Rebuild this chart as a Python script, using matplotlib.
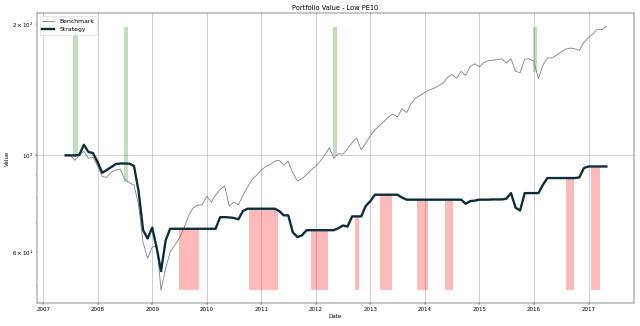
import numpy as np
import pandas as pd
import matplotlib
matplotlib.use("Agg")
import matplotlib.pyplot as plt
import matplotlib.dates as mdates

# Monthly portfolio values (start = 100)
dates = pd.date_range("2007-05-31", periods=120, freq="ME")

benchmark = [
    100.0, 100.3, 97.4, 100.0, 102.2, 98.4, 99.0, 94.5, 89.5, 89.0,
    91.5, 92.5, 93.0, 88.0, 86.5, 85.5, 77.0, 63.0, 58.0, 61.5,
    62.0, 49.0, 55.0, 60.0, 62.1, 64.5, 68.0, 72.5, 75.7, 76.8,
    77.0, 80.5, 78.1, 81.0, 83.5, 85.0, 76.5, 78.0, 77.0, 80.9,
    84.5, 88.0, 90.0, 92.5, 94.3, 95.3, 97.0, 97.5, 95.0, 96.9,
    91.0, 87.3, 88.4, 90.4, 92.5, 94.5, 97.0, 100.0, 104.2, 98.5,
    100.9, 100.7, 103.5, 107.0, 109.6, 103.0, 106.5, 111.0, 114.5, 117.0,
    119.5, 122.5, 124.5, 122.5, 128.0, 125.5, 131.5, 135.5, 137.5, 139.5,
    141.5, 142.5, 144.5, 146.5, 151.0, 153.5, 150.5, 156.0, 152.7, 160.0,
    162.5, 160.0, 163.5, 165.0, 165.5, 166.0, 166.7, 163.0, 166.8, 156.0,
    155.0, 166.5, 166.8, 164.5, 150.0, 161.0, 167.5, 167.5, 170.0, 172.9,
    175.5, 176.5, 175.8, 174.3, 182.0, 186.4, 190.4, 195.0, 194.5, 197.8,
]

strategy = [
    100.0, 100.0, 100.0, 100.3, 105.8, 101.8, 101.3, 96.5, 91.2, 92.5,
    94.0, 95.5, 95.8, 95.8, 95.7, 94.5, 83.0, 67.3, 64.4, 68.2,
    61.0, 54.2, 63.8, 67.8, 67.8, 67.8, 67.8, 67.8, 67.8, 67.8,
    67.8, 67.8, 67.8, 67.8, 72.1, 72.1, 72.0, 71.8, 71.3, 74.5,
    75.4, 75.4, 75.4, 75.4, 75.4, 75.4, 75.4, 74.5, 72.8, 72.8,
    66.5, 64.9, 65.5, 67.3, 67.3, 67.3, 67.3, 67.3, 67.3, 67.3,
    68.0, 69.0, 68.6, 72.4, 72.4, 72.4, 76.5, 78.5, 81.2, 81.2,
    81.2, 81.2, 81.2, 81.2, 80.0, 79.1, 79.1, 79.1, 79.1, 79.1,
    79.1, 79.1, 79.1, 79.1, 79.1, 79.1, 79.1, 79.1, 77.4, 78.5,
    78.7, 79.1, 79.1, 79.1, 79.2, 79.2, 79.2, 79.5, 81.9, 75.8,
    74.7, 81.9, 81.9, 81.9, 81.9, 85.5, 88.7, 88.7, 88.7, 88.7,
    88.7, 88.7, 88.7, 89.0, 93.5, 94.3, 94.3, 94.3, 94.3, 94.3,
]

# Buy signals (green) and sell periods (red)
buy_start = ["2007-07-22", "2008-06-23", "2012-04-22", "2015-12-23"]
buy_end = ["2007-08-22", "2008-07-21", "2012-05-19", "2016-01-20"]

sell_start = ["2009-06-25", "2010-10-12", "2011-12-02", "2012-09-16", "2013-03-07",
              "2013-11-10", "2014-05-12", "2016-08-03", "2017-01-19"]
sell_end = ["2009-11-10", "2011-04-23", "2012-03-25", "2012-10-15", "2013-05-27",
            "2014-01-19", "2014-07-05", "2016-09-27", "2017-03-15"]

bench = np.array(benchmark)
strat = np.array(strategy)
xnum = mdates.date2num(dates)

lo = min(bench.min(), strat.min())
hi = max(bench.max(), strat.max())

fig = plt.figure(figsize=(16, 8.15), dpi=40)
ax = fig.add_axes([0.0573, 0.0696, 0.9338, 0.8894])

# green bars: from benchmark level up to the top of the data range
for s, e in zip(buy_start, buy_end):
    s_n = mdates.date2num(pd.Timestamp(s))
    e_n = mdates.date2num(pd.Timestamp(e))
    base = np.interp(e_n, xnum, bench)
    ax.bar(s_n, hi - base, width=e_n - s_n, bottom=base, align="edge",
           color="green", alpha=0.25, linewidth=0)

# red bars: from bottom of the data range up to strategy level
for s, e in zip(sell_start, sell_end):
    s_n = mdates.date2num(pd.Timestamp(s))
    e_n = mdates.date2num(pd.Timestamp(e))
    top = np.interp((s_n + e_n) / 2, xnum, strat)
    ax.bar(s_n, top - lo, width=e_n - s_n, bottom=lo, align="edge",
           color="red", alpha=0.27, linewidth=0)

ax.plot(dates, bench, color="gray", lw=1.5, label="Benchmark")
ax.plot(dates, strat, color="#0b2c38", lw=4.2, label="Strategy")

ax.set_yscale("log")
pad = 0.05 * (np.log10(hi) - np.log10(lo))
ax.set_ylim(10 ** (np.log10(lo) - pad), 10 ** (np.log10(hi) + pad))
ax.set_xlim(mdates.date2num(pd.Timestamp("2006-11-18")),
            mdates.date2num(pd.Timestamp("2017-11-03")))

ax.xaxis.set_major_locator(mdates.YearLocator())
ax.xaxis.set_major_formatter(mdates.DateFormatter("%Y"))
ax.grid(True, color="#c8c8c8", lw=1.5)
ax.set_axisbelow(True)

ax.set_title("Portfolio Value - Low PE10", fontsize=12)
ax.set_xlabel("Date", fontsize=10)
ax.set_ylabel("Value", fontsize=10)
ax.tick_params(labelsize=10)
ax.legend(loc="upper left", fontsize=11)

fig.savefig("out.png", dpi=40)
